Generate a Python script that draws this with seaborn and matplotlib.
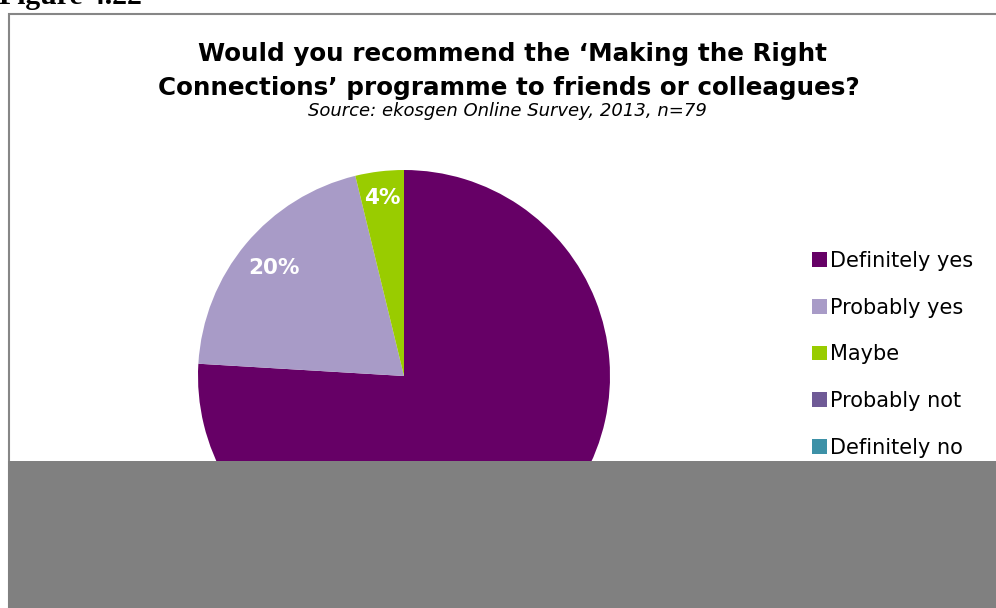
import matplotlib
matplotlib.use("Agg")
import matplotlib.pyplot as plt
from matplotlib.patches import Rectangle, Patch
import numpy as np
import seaborn as sns

# Survey responses (n=79)
categories = ["Definitely yes", "Probably yes", "Maybe", "Probably not", "Definitely no"]
responses = [60, 16, 3, 0, 0]
colors = ["#660066", "#A89BC7", "#99CC00", "#6F5A96", "#3D91A7"]
# distance of each percentage label from the pie centre (fraction of radius)
label_dist = [0.70, 0.82, 0.87, 0.8, 0.8]

title_lines = ["Would you recommend the \u2018Making the Right",
               "Connections\u2019 programme to friends or colleagues?"]
subtitle = "Source: ekosgen Online Survey, 2013, n=79"
caption = "Figure 4.22"

sns.set_theme(style="white")
plt.rcParams["font.family"] = ["DejaVu Sans"]
palette = sns.color_palette(colors)

W, H = 996, 608
fig = plt.figure(figsize=(W / 100, H / 100), dpi=100)
fig.patch.set_facecolor("white")


def fx(px):
    return px / W


def fy(py):
    return 1 - py / H


# caption above the chart frame (runs off the top of the page)
fig.text(fx(-1), fy(4), caption, family="Liberation Serif", weight="bold",
         fontsize=21.4, ha="left", va="baseline", color="black")

# chart frame
fig.add_artist(Rectangle((fx(9), fy(700)), fx(1200) - fx(9), fy(14) - fy(700),
                         transform=fig.transFigure, fill=False,
                         edgecolor="#868686", lw=1.5, zorder=1))

# titles
fig.text(fx(513), fy(61), title_lines[0], weight="bold",
         fontsize=17.7, ha="center", va="baseline", color="black")
fig.text(fx(509), fy(95), title_lines[1], weight="bold",
         fontsize=17.7, ha="center", va="baseline", color="black")
fig.text(fx(507), fy(116), subtitle, style="italic",
         fontsize=13, ha="center", va="baseline", color="black")

# pie
cx, cy, r = 404, 376, 206
ax = fig.add_axes([fx(cx - r), fy(cy + r), 2 * r / W, 2 * r / H])
wedges, _ = ax.pie(responses, colors=palette, startangle=90, counterclock=False,
                   radius=1, wedgeprops=dict(linewidth=0))
ax.set_xlim(-1, 1)
ax.set_ylim(-1, 1)
ax.set_aspect("equal")
ax.axis("off")

total = sum(responses)
for w, v, d in zip(wedges, responses, label_dist):
    if v <= 0:
        continue
    mid = np.deg2rad((w.theta1 + w.theta2) / 2)
    ax.text(d * np.cos(mid), d * np.sin(mid), f"{round(100 * v / total)}%",
            ha="center", va="center", color="white", weight="bold", fontsize=15.5)

# legend
handles = [Patch(facecolor=c, edgecolor="none") for c in palette]
leg = fig.legend(handles, categories, loc="upper left",
                 bbox_to_anchor=(fx(812), fy(251)), frameon=False, fontsize=15,
                 handlelength=0.7, handleheight=0.7, handletextpad=0.15,
                 labelspacing=1.28, borderaxespad=0, borderpad=0)
for t in leg.get_texts():
    t.set_color("black")

# grey panel across the lower part
fig.add_artist(Rectangle((fx(8), 0), 1 - fx(8), (H - 461) / H,
                         transform=fig.transFigure, facecolor="#808080",
                         edgecolor="none", zorder=20))

fig.savefig("out.png", dpi=100)
